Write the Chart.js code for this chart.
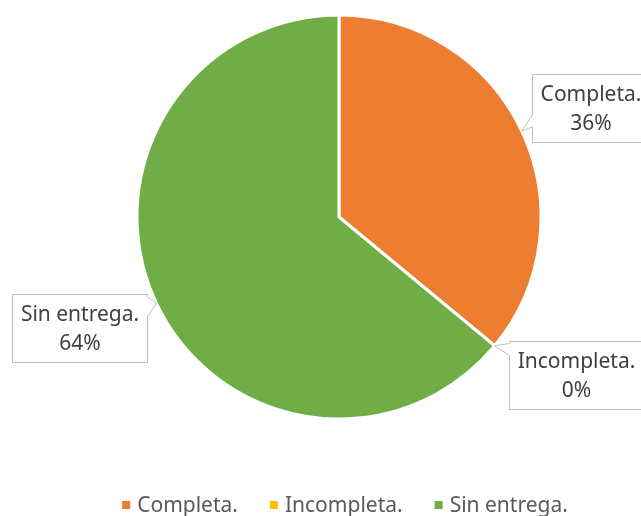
<!DOCTYPE html>
<html>
<head>
<meta charset="utf-8">
<script src="https://cdn.jsdelivr.net/npm/chart.js@4"></script>
<style>
  html, body { margin: 0; padding: 0; background: #fff; }
  #wrap { width: 641px; height: 516px; }
</style>
</head>
<body>
<div id="wrap"><canvas id="entregasChart" width="641" height="516"></canvas></div>
<script>
// Estado de las entregas (porcentaje)
const categories = ['Completa.', 'Incompleta.', 'Sin entrega.'];
const percentages = [36, 0, 64];
const sliceColors = ['#ED7D31', '#FFC000', '#70AD47'];

const FONT = '"Noto Sans", sans-serif';

// Box offsets from the slice edge anchor (centre of callout)
const calloutOffsets = [[69, -23], [81, 29], [-77, 25]];

function roundedClamp(v, lo, hi) { return Math.max(lo, Math.min(hi, v)); }

const calloutLabels = {
    id: 'calloutLabels',
    afterDatasetsDraw(chart) {
        const ctx = chart.ctx;
        const meta = chart.getDatasetMeta(0);
        ctx.save();
        ctx.font = '21px ' + FONT;
        meta.data.forEach((arc, i) => {
            const mid = (arc.startAngle + arc.endAngle) / 2;
            const tipX = arc.x + Math.cos(mid) * arc.outerRadius;
            const tipY = arc.y + Math.sin(mid) * arc.outerRadius;
            const line1 = categories[i];
            const line2 = percentages[i] + '%';
            const w = Math.ceil(ctx.measureText(line1).width) + 16;
            const h = 68;
            const cx = tipX + calloutOffsets[i][0];
            const cy = tipY + calloutOffsets[i][1];
            const left = Math.round(cx - w / 2) + 0.5;
            const top = Math.round(cy - h / 2) + 0.5;
            const right = left + w, bottom = top + h;

            // box with a small pointer toward the slice
            ctx.beginPath();
            if (tipX < left) {
                const b1 = roundedClamp(tipY - 16, top + 2, bottom - 14);
                ctx.moveTo(left, top);
                ctx.lineTo(right, top);
                ctx.lineTo(right, bottom);
                ctx.lineTo(left, bottom);
                ctx.lineTo(left, b1 + 12);
                ctx.lineTo(tipX, tipY);
                ctx.lineTo(left, b1);
            } else {
                const b1 = roundedClamp(tipY - 6, top + 2, bottom - 22);
                ctx.moveTo(left, top);
                ctx.lineTo(right, top);
                ctx.lineTo(right, b1);
                ctx.lineTo(tipX, tipY);
                ctx.lineTo(right, b1 + 20);
                ctx.lineTo(right, bottom);
                ctx.lineTo(left, bottom);
            }
            ctx.closePath();
            ctx.fillStyle = '#ffffff';
            ctx.fill();
            ctx.strokeStyle = '#BFBFBF';
            ctx.lineWidth = 1;
            ctx.stroke();

            ctx.fillStyle = '#404040';
            ctx.textAlign = 'center';
            ctx.textBaseline = 'middle';
            const tx = (left + right) / 2;
            ctx.fillText(line1, tx, top + 21);
            ctx.fillText(line2, tx, top + 50);
        });
        ctx.restore();
    }
};

// Legend drawn along the bottom, centred under the pie
const bottomLegend = {
    id: 'bottomLegend',
    afterDraw(chart) {
        const ctx = chart.ctx;
        const colors = chart.data.datasets[0].backgroundColor;
        ctx.save();
        ctx.font = '21px ' + FONT;
        const box = 8, textGap = 7, itemGap = 32;
        const widths = chart.data.labels.map(l => box + textGap + ctx.measureText(l).width);
        const total = widths.reduce((a, b) => a + b, 0) + itemGap * (widths.length - 1);
        let x = 345 - total / 2;
        const y = 505;
        chart.data.labels.forEach((label, i) => {
            ctx.fillStyle = colors[i];
            ctx.fillRect(x, y - 4, box, box);
            ctx.fillStyle = '#595959';
            ctx.textAlign = 'left';
            ctx.textBaseline = 'middle';
            ctx.fillText(label, x + box + textGap, y + 1);
            x += widths[i] + itemGap;
        });
        ctx.restore();
    }
};

new Chart(document.getElementById('entregasChart').getContext('2d'), {
    type: 'pie',
    data: {
        labels: categories,
        datasets: [{
            data: percentages,
            backgroundColor: sliceColors,
            borderColor: '#ffffff',
            borderWidth: 3
        }]
    },
    options: {
        responsive: false,
        animation: false,
        radius: 202,
        layout: { padding: { left: 37, right: 0, top: 0, bottom: 82 } },
        plugins: {
            legend: { display: false },
            tooltip: { enabled: false }
        }
    },
    plugins: [calloutLabels, bottomLegend]
});
</script>
</body>
</html>
